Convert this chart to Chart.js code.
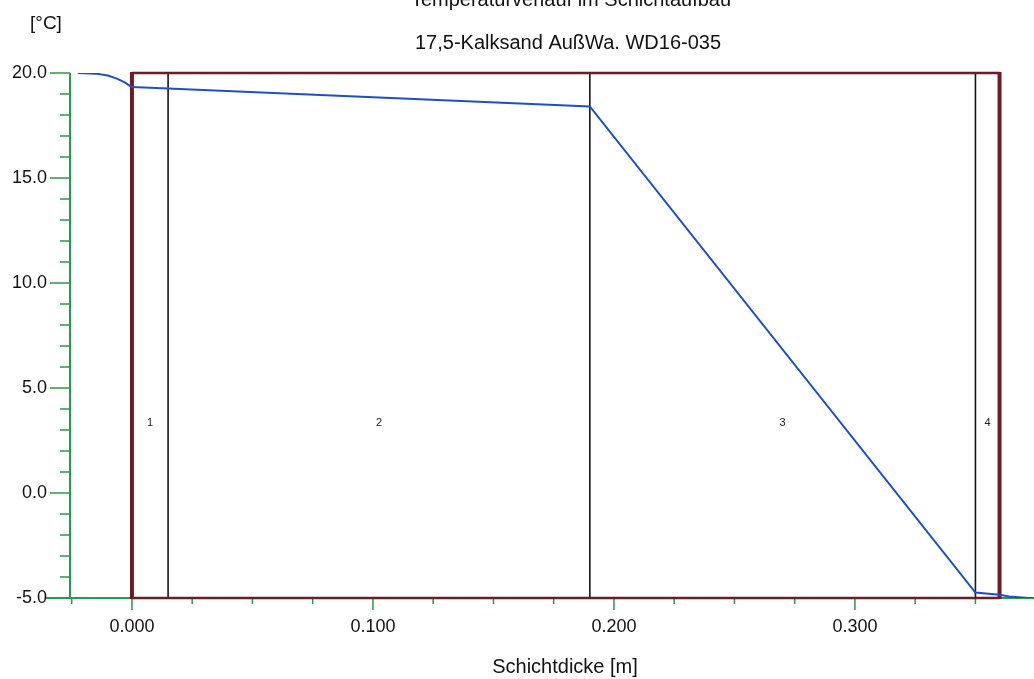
<!DOCTYPE html>
<html>
<head>
<meta charset="utf-8">
<script src="https://cdn.jsdelivr.net/npm/chart.js@4.4.1/dist/chart.umd.min.js"></script>
<style>
  body { margin: 0; background: #fff; }
  #wrap { width: 1034px; height: 679px; position: relative; }
</style>
</head>
<body>
<div id="wrap"><canvas id="tempChart" width="1034" height="679"></canvas></div>
<script>
// Temperaturverlauf - Daten
const xValues    = [-0.0225, -0.015, -0.010, -0.006, -0.003, -0.001, 0.000, 0.015, 0.190, 0.350, 0.360, 0.364, 0.368, 0.372, 0.374];
const tempValues = [20.00, 19.97, 19.88, 19.72, 19.55, 19.40, 19.33, 19.26, 18.41, -4.74, -4.85, -4.93, -4.97, -5.00, -5.00];

const layerBounds = [0.000, 0.015, 0.190, 0.350, 0.360];
const layerNames  = ['1', '2', '3', '4'];
const layerLabelY = 3.33;

const xMajorTicks = [0.0, 0.1, 0.2, 0.3];
const xMinorTicks = [-0.025, 0.025, 0.05, 0.075, 0.125, 0.15, 0.175, 0.225, 0.25, 0.275, 0.325, 0.35];
const yMajorTicks = [-5, 0, 5, 10, 15, 20];
const yMinorTicks = [-4, -3, -2, -1, 1, 2, 3, 4, 6, 7, 8, 9, 11, 12, 13, 14, 16, 17, 18, 19];

const titleText    = 'Temperaturverlauf im Schichtaufbau';
const subtitleText = '17,5-Kalksand AußWa. WD16-035';
const yUnitText    = '[°C]';
const xAxisText    = 'Schichtdicke [m]';

const FONT = '"Liberation Sans", Arial, sans-serif';
const GREEN = '#2a9b45';
const MAROON = '#6a1e24';

// Schichten, Achsen und Texte
const decorPlugin = {
    id: 'decor',
    beforeDatasetsDraw(chart) {
        const ctx = chart.ctx;
        const xs = chart.scales.x, ys = chart.scales.y;
        const top = ys.getPixelForValue(20), bottom = ys.getPixelForValue(-5);
        const area = chart.chartArea;
        ctx.save();

        // Achsenlinien
        ctx.strokeStyle = GREEN;
        ctx.lineWidth = 2;
        ctx.beginPath();
        ctx.moveTo(area.left, top); ctx.lineTo(area.left, bottom);
        ctx.moveTo(area.left - 24, bottom); ctx.lineTo(area.right, bottom);
        ctx.stroke();

        ctx.lineWidth = 1.5;
        ctx.beginPath();
        yMajorTicks.forEach(v => { const p = ys.getPixelForValue(v); ctx.moveTo(area.left - 20, p); ctx.lineTo(area.left, p); });
        yMinorTicks.forEach(v => { const p = ys.getPixelForValue(v); ctx.moveTo(area.left - 10, p); ctx.lineTo(area.left, p); });
        xMajorTicks.forEach(v => { const p = xs.getPixelForValue(v); ctx.moveTo(p, bottom); ctx.lineTo(p, bottom + 12); });
        xMinorTicks.forEach(v => { const p = xs.getPixelForValue(v); ctx.moveTo(p, bottom); ctx.lineTo(p, bottom + 6); });
        ctx.stroke();

        // Schichtgrenzen
        const x0 = xs.getPixelForValue(layerBounds[0]);
        const xN = xs.getPixelForValue(layerBounds[layerBounds.length - 1]);
        ctx.strokeStyle = '#1a1414';
        ctx.lineWidth = 1.6;
        ctx.beginPath();
        for (let i = 1; i < layerBounds.length - 1; i++) {
            const p = xs.getPixelForValue(layerBounds[i]);
            ctx.moveTo(p, top); ctx.lineTo(p, bottom);
        }
        ctx.stroke();

        ctx.strokeStyle = MAROON;
        ctx.lineWidth = 2.5;
        ctx.beginPath();
        ctx.moveTo(x0, top); ctx.lineTo(xN, top);
        ctx.moveTo(x0, bottom); ctx.lineTo(xN, bottom);
        ctx.stroke();
        ctx.lineWidth = 4;
        ctx.beginPath();
        ctx.moveTo(x0, top - 1); ctx.lineTo(x0, bottom + 1);
        ctx.moveTo(xN, top - 1); ctx.lineTo(xN, bottom + 1);
        ctx.stroke();

        // Schichtnummern
        ctx.fillStyle = '#222';
        ctx.font = '11px ' + FONT;
        ctx.textAlign = 'center';
        ctx.textBaseline = 'middle';
        layerNames.forEach((n, i) => {
            const c = (layerBounds[i] + layerBounds[i + 1]) / 2;
            ctx.fillText(n, xs.getPixelForValue(c), ys.getPixelForValue(layerLabelY));
        });

        // Titel und Beschriftungen
        ctx.fillStyle = '#111';
        ctx.font = '20px ' + FONT;
        ctx.textBaseline = 'alphabetic';
        ctx.fillText(titleText, 571, 6);
        ctx.fillText(subtitleText, 568, 49);
        ctx.fillText(xAxisText, 565, 673);
        ctx.textAlign = 'left';
        ctx.font = '19px ' + FONT;
        ctx.fillText(yUnitText, 30, 29);
        ctx.restore();
    }
};

const ctx = document.getElementById('tempChart').getContext('2d');
const tempChart = new Chart(ctx, {
    type: 'scatter',
    data: {
        datasets: [{
            label: 'Temperatur',
            data: xValues.map((x, i) => ({ x: x, y: tempValues[i] })),
            showLine: true,
            borderColor: '#1f4fc4',
            borderWidth: 2,
            pointRadius: 0,
            tension: 0
        }]
    },
    options: {
        responsive: false,
        animation: false,
        layout: { padding: { top: 73, right: 0, left: 0, bottom: 0 } },
        plugins: {
            legend: { display: false },
            tooltip: { enabled: false }
        },
        scales: {
            x: {
                type: 'linear',
                min: -0.0257,
                max: 0.3743,
                afterFit(scale) { scale.height = 81; },
                afterBuildTicks(scale) { scale.ticks = xMajorTicks.map(v => ({ value: v })); },
                grid: { display: true, drawOnChartArea: false, drawTicks: false, color: 'transparent' },
                border: { display: false },
                ticks: {
                    padding: 18,
                    color: '#111',
                    font: { family: FONT, size: 18 },
                    maxRotation: 0,
                    callback: v => v.toFixed(3)
                }
            },
            y: {
                min: -5,
                max: 20,
                afterFit(scale) { scale.width = 70; },
                afterBuildTicks(scale) { scale.ticks = yMajorTicks.map(v => ({ value: v })); },
                grid: { display: true, drawOnChartArea: false, drawTicks: false, color: 'transparent' },
                border: { display: false },
                ticks: {
                    padding: 23,
                    color: '#111',
                    font: { family: FONT, size: 18 },
                    callback: v => v.toFixed(1)
                }
            }
        }
    },
    plugins: [decorPlugin]
});
</script>
</body>
</html>
